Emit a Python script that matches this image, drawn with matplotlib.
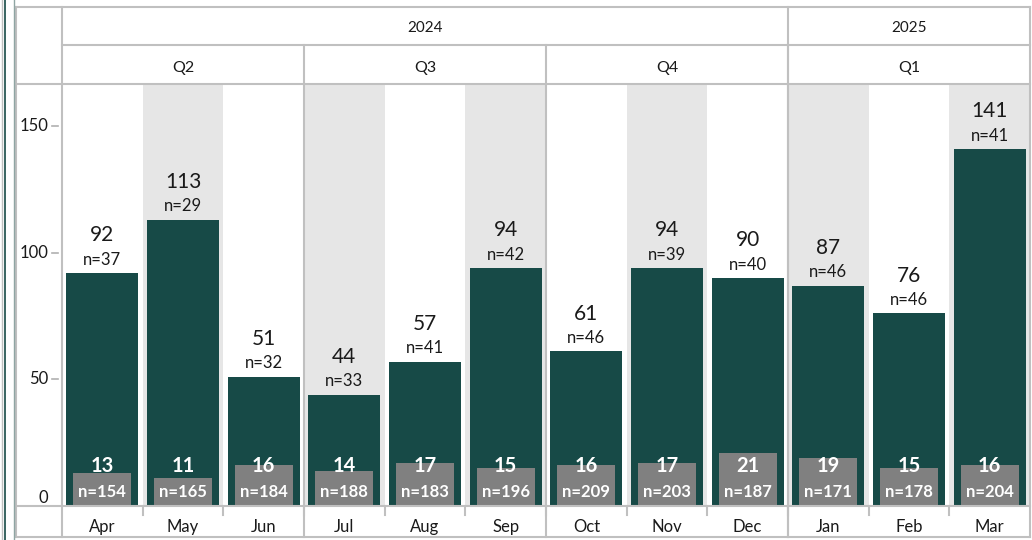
import matplotlib
matplotlib.use("Agg")
import matplotlib.pyplot as plt
from matplotlib.transforms import blended_transform_factory
from matplotlib.lines import Line2D

plt.rcParams["font.family"] = ["Lato", "DejaVu Sans"]

months = ["Apr", "May", "Jun", "Jul", "Aug", "Sep", "Oct", "Nov", "Dec", "Jan", "Feb", "Mar"]
quarters = ["Q2", "Q3", "Q4", "Q1"]
quarter_sizes = [3, 3, 3, 3]
years = ["2024", "2025"]
year_sizes = [9, 3]
totals = [92, 113, 51, 44, 57, 94, 61, 94, 90, 87, 76, 141]
totals_n = [37, 29, 32, 33, 41, 42, 46, 39, 40, 46, 46, 41]
sub = [13, 11, 16, 14, 17, 15, 16, 17, 21, 19, 15, 16]
sub_n = [154, 165, 184, 188, 183, 196, 209, 203, 187, 171, 178, 204]
yticks = [0, 50, 100, 150]

teal = "#174a47"
grey_bar = "#808080"
shade = "#e6e6e6"
line_c = "#c0c0c0"
txt = "#1a1a1a"

W, H = 1032, 540
fig = plt.figure(figsize=(W / 100, H / 100), dpi=100)

# pixel layout
x_out, x_left, x_right = 16, 62, 1030
y_top, y_q, y_plot, y_base, y_bot = 7, 45, 84, 506, 537

def fx(px):
    return px / W

def fy(py):
    return 1 - py / H

ax = fig.add_axes([fx(x_left), fy(y_base), fx(x_right - x_left), (y_base - y_plot) / H])
n = len(months)
x = list(range(n))
ax.set_xlim(-0.5, n - 0.5)
ax.set_ylim(0, (y_base - y_plot) / 2.533)

for i in x:
    if i % 2 == 1:
        ax.axvspan(i - 0.5, i + 0.5, color=shade, lw=0, zorder=0)

ax.bar(x, totals, width=0.89, color=teal, zorder=2)
ax.bar(x, sub, width=0.72, color=grey_bar, zorder=3)

for i in x:
    ax.annotate(f"n={totals_n[i]}", (i, totals[i]), xytext=(0, 6), textcoords="offset points",
                ha="center", va="baseline", fontsize=12, color=txt)
    ax.annotate(str(totals[i]), (i, totals[i]), xytext=(0, 23), textcoords="offset points",
                ha="center", va="baseline", fontsize=15, color=txt)
    ax.annotate(f"n={sub_n[i]}", (i, 0), xytext=(0, 6.5), textcoords="offset points",
                ha="center", va="baseline", fontsize=12, color="white", fontweight="bold", zorder=5)
    ax.annotate(str(sub[i]), (i, 0), xytext=(0, 24.5), textcoords="offset points",
                ha="center", va="baseline", fontsize=14.5, color="white", fontweight="bold", zorder=5)

ax.set_xticks([])
ax.set_yticks([])
for s in ax.spines.values():
    s.set_visible(False)

# y axis labels and ticks (ticks drawn with a small gap to the axis)
ty = blended_transform_factory(fig.transFigure, ax.transData)
for v in yticks:
    if v == 0:
        fig.text(fx(48), v, str(v), transform=ty, ha="right", va="bottom", fontsize=12, color=txt)
    else:
        fig.text(fx(48), v, str(v), transform=ty, ha="right", va="center", fontsize=12, color=txt)
        fig.add_artist(Line2D([fx(52), fx(58)], [v, v], transform=ty, color="#b0b0b0", lw=1.2))

# header / grid lines drawn in figure pixel coordinates
def hline(py, x0, x1):
    fig.add_artist(Line2D([fx(x0), fx(x1)], [fy(py), fy(py)], color=line_c, lw=1.5))

def vline(px, y0, y1, c=line_c, lw=1.5):
    fig.add_artist(Line2D([fx(px), fx(px)], [fy(y0), fy(y1)], color=c, lw=lw))

hline(y_top, x_out, x_right)
hline(y_q, x_left, x_right)
hline(y_plot, x_out, x_right)
hline(y_base, x_out, x_right)
hline(y_bot, x_out, x_right)
vline(x_out, y_top, y_bot)
vline(x_left, y_top, y_bot)
vline(x_right, y_top, y_bot)
vline(2, 0, H, lw=1)
vline(4.5, 0, H, c=teal, lw=1.2)
vline(14, 0, H, c="#8fa5a3", lw=1)

col_w = (x_right - x_left) / n
tr = blended_transform_factory(ax.transData, fig.transFigure)

start = 0
for q, size in zip(quarters, quarter_sizes):
    mid = start + (size - 1) / 2
    fig.text(mid, fy(72), q, transform=tr, ha="center", va="baseline", fontsize=11.5, color=txt)
    if start > 0:
        vline(x_left + start * col_w, y_q, y_bot)
    start += size

start = 0
for yr, size in zip(years, year_sizes):
    mid = start + (size - 1) / 2
    fig.text(mid, fy(32), yr, transform=tr, ha="center", va="baseline", fontsize=11, color=txt)
    if start > 0:
        vline(x_left + start * col_w, y_top, y_bot)
    start += size

for i, m in enumerate(months):
    fig.text(i, fy(532), m, transform=tr, ha="center", va="baseline", fontsize=12, color=txt)
    if i > 0:
        vline(x_left + i * col_w, y_base, y_base + 9)

fig.savefig("out.png", dpi=100)
